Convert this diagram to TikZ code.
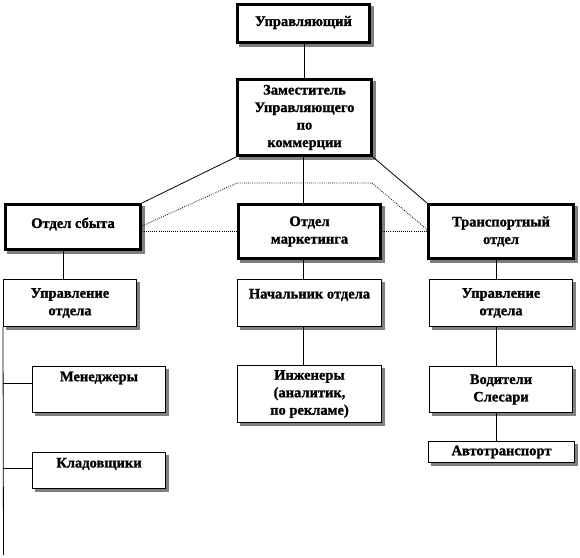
\documentclass[tikz,border=0pt]{standalone}
\usepackage{fontspec}
\setmainfont{Liberation Serif}[BoldFeatures={FakeBold=1.2}]
\usetikzlibrary{shadows}
\newcommand\up[2]{\raisebox{#1}[\height][\depth]{#2}}
\begin{document}
\begin{tikzpicture}[x=1pt,y=-1pt,
  txt/.style={font=\bfseries\fontsize{14.5}{17.5}\selectfont, align=center, inner sep=0pt, text=black},
  bigbox/.style={txt, draw=black, line width=3pt, fill=white,
     general shadow={fill=gray, draw=gray, line width=3pt, shadow xshift=3pt, shadow yshift=-3pt}},
  smallbox/.style={txt, draw=black, line width=1pt, fill=white,
     general shadow={fill=gray, draw=gray, line width=1pt, shadow xshift=2.5pt, shadow yshift=-2.5pt}},
  link/.style={draw=black, line width=0.8pt},
  dotlink/.style={draw=black, line width=0.8pt, dash pattern=on 0.8pt off 1.3pt}]
\useasboundingbox[fill=white] (0,0) rectangle (580,557);

% top level
\node[bigbox, minimum width=132, minimum height=38] (ctrl) at (303.5,23.5) {\up{1pt}{Управляющий}};
\node[bigbox, minimum width=134, minimum height=76] (dep) at (304.5,117.5) {Заместитель\\Управляющего\\по\\коммерции};

% departments
\node[bigbox, minimum width=135, minimum height=45] (sales) at (73,227) {\up{3pt}{Отдел сбыта}};
\node[bigbox, minimum width=142, minimum height=54] (mkt) at (309.5,231.5) {Отдел\\маркетинга};
\node[bigbox, minimum width=145, minimum height=54] (trans) at (501,231.5) {Транспортный\\отдел};

% sales branch
\node[smallbox, minimum width=133, minimum height=47] (lmg) at (70,303) {Управление\\отдела};
\node[smallbox, minimum width=133, minimum height=46] (men) at (99,389.5) {\up{11.5pt}{Менеджеры}};
\node[smallbox, minimum width=133, minimum height=36] (kla) at (99,470.5) {\up{6.5pt}{Кладовщики}};

% marketing branch
\node[smallbox, minimum width=144, minimum height=47] (nach) at (309.5,303) {\up{8pt}{Начальник отдела}};
\node[smallbox, minimum width=144, minimum height=57] (ing) at (309.5,394) {Инженеры\\(аналитик,\\по рекламе)};

% transport branch
\node[smallbox, minimum width=143, minimum height=47] (rmg) at (501,303) {Управление\\отдела};
\node[smallbox, minimum width=143, minimum height=46] (vod) at (501,389.5) {Водители\\Слесари};
\node[smallbox, minimum width=146, minimum height=21] (avto) at (501.5,452) {Автотранспорт};

\coordinate (d1) at (237,183);
\coordinate (d2) at (372,183);
\coordinate (lend) at (3.5,555);

% connectors
\path[link] (ctrl.south -| dep.south) -- (dep.north);
\path[link] ([xshift=-1.5pt]dep.south) -- ([xshift=-1.5pt]dep.south |- mkt.north);
\path[link] (dep.south west) -- (sales.north east);
\path[link] (dep.south east) -- (trans.north west);

\path[dotlink] (mkt.west) -- (mkt.west -| sales.east);
\path[dotlink] (mkt.east) -- (trans.west);
\path[dotlink] ([yshift=1pt]sales.east) -- (d1) -- (d2) -- ([yshift=2pt]trans.west);

\path[link] ([xshift=-10pt]sales.south) -- ([xshift=-10pt]sales.south |- lmg.north);
\path[link] (lmg.south west) -- (lend);
\path[link] (men.west) ++(0,-6) coordinate (m1) -- (m1 -| lmg.west);
\path[link] (kla.west) ++(0,-2.5) coordinate (k1) -- (k1 -| lmg.west);

\path[link] ([xshift=-1.5pt]dep.south |- mkt.south) -- ([xshift=-1.5pt]dep.south |- nach.north);
\path[link] ([xshift=-1.5pt]dep.south |- nach.south) -- ([xshift=-1.5pt]dep.south |- ing.north);

\path[link] ([xshift=-5pt]trans.south) -- ([xshift=-5pt]trans.south |- rmg.north);
\path[link] ([xshift=-5pt]rmg.south) -- ([xshift=-5pt]rmg.south |- vod.north);
\path[link] ([xshift=-5pt]vod.south) -- ([xshift=-5pt]vod.south |- avto.north);
\end{tikzpicture}
\end{document}
